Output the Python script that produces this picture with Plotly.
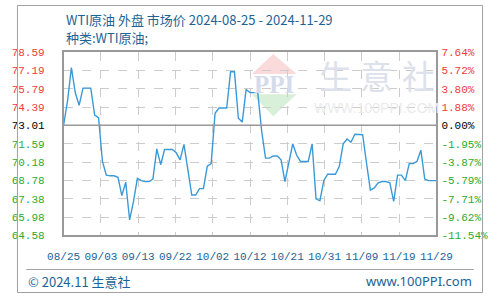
import pandas as pd
import plotly.graph_objects as go

# ---------------- data ----------------
start_date = "2024-08-25"
end_date = "2024-11-29"
prices = [
    73.01, 74.83, 77.42, 75.51, 74.53, 75.85, 75.85, 75.85, 73.79, 73.60,
    70.24, 69.19, 69.14, 69.14, 69.02, 67.62, 68.65, 65.76, 67.18, 68.94,
    68.77, 68.70, 68.70, 68.89, 71.20, 69.99, 71.15, 71.15, 71.15, 70.90,
    70.36, 71.54, 69.63, 67.67, 67.67, 68.16, 68.16, 69.87, 70.07, 73.92,
    74.33, 74.33, 74.33, 77.10, 77.10, 73.55, 73.25, 75.75, 75.51, 75.51,
    75.51, 72.57, 70.49, 70.49, 70.66, 70.66, 70.36, 68.70, 70.24, 71.59,
    70.73, 70.24, 70.24, 70.24, 71.59, 67.38, 67.23, 68.77, 69.26, 69.26,
    69.26, 69.87, 71.59, 71.96, 71.71, 72.32, 72.32, 72.28, 70.12, 68.04,
    68.21, 68.60, 68.70, 68.70, 68.60, 67.18, 69.19, 69.19, 68.77, 70.07,
    70.07, 70.24, 71.10, 68.89, 68.77, 68.77, 68.77,
]
base_price = 73.01
y_ticks = [78.59, 77.19, 75.79, 74.39, 73.01, 71.59, 70.18, 68.78, 67.38, 65.98, 64.58]
pct_labels = ["7.64%", "5.72%", "3.80%", "1.88%", "0.00%", "-1.95%", "-3.87%",
              "-5.79%", "-7.71%", "-9.62%", "-11.54%"]
x_labels = ["08/25", "09/03", "09/13", "09/22", "10/02", "10/12", "10/21",
            "10/31", "11/09", "11/19", "11/29"]

title_text = "WTI原油 外盘 市场价 2024-08-25 - 2024-11-29"
subtitle_text = "种类:WTI原油;"
footer_left = "© 2024.11 生意社"
footer_right = "www.100PPI.com"

# ---------------- styling ----------------
W, H = 500, 300
RED, GREEN, BLACK = "#ee3b3b", "#2eaa2e", "#000000"
BLUE_TEXT = "#1c6496"
LINE = "#3a9ad9"
TICK_FONT = dict(family="Liberation Mono", size=11)

dates = pd.date_range(start_date, end_date, freq="D")
t0 = pd.Timestamp(start_date)
span = pd.Timestamp(end_date) - t0
tick_pos = [t0 + span * i / (len(x_labels) - 1) for i in range(len(x_labels))]


def col(v):
    if abs(v - base_price) < 1e-9:
        return BLACK
    return RED if v > base_price else GREEN


left_text = [f'<span style="color:{col(v)}">{v:.2f}</span>' for v in y_ticks]
right_text = [f'<span style="color:{col(v)}">{p}</span>' for v, p in zip(y_ticks, pct_labels)]


def px(x):
    return x / W


def py(y):
    return 1 - y / H


fig = go.Figure()
fig.add_trace(go.Scatter(x=dates, y=prices, mode="lines",
                         line=dict(color=LINE, width=1.4), hoverinfo="skip",
                         showlegend=False))
fig.add_trace(go.Scatter(x=dates, y=prices, mode="lines", yaxis="y2",
                         line=dict(color="rgba(0,0,0,0)", width=0),
                         hoverinfo="skip", showlegend=False))

x0p, x1p = px(50), px(450)
y0p, y1p = py(240), py(49.3)

fig.update_layout(
    width=W, height=H,
    margin=dict(l=0, r=0, t=0, b=0),
    paper_bgcolor="white", plot_bgcolor="rgba(0,0,0,0)",
    xaxis=dict(
        domain=[x0p, x1p], type="date",
        range=[t0, pd.Timestamp(end_date)],
        tickvals=tick_pos, ticktext=x_labels,
        tickfont=dict(color=BLUE_TEXT, **TICK_FONT),
        ticks="", ticklabelstandoff=10,
        showgrid=True, gridcolor="#cccccc", griddash="dash", gridwidth=1,
        showline=True, linecolor="#999999", linewidth=1.5, mirror=True,
        zeroline=False,
    ),
    yaxis=dict(
        domain=[y0p, y1p], range=[y_ticks[-1], y_ticks[0]],
        tickvals=y_ticks, ticktext=left_text,
        tickfont=TICK_FONT, ticks="", ticklabelstandoff=15,
        showgrid=True, gridcolor="#cccccc", griddash="dash", gridwidth=1,
        showline=True, linecolor="#999999", linewidth=1.5, mirror=True,
        zeroline=False,
    ),
    yaxis2=dict(
        overlaying="y", side="right", range=[y_ticks[-1], y_ticks[0]],
        tickvals=y_ticks, ticktext=right_text,
        tickfont=TICK_FONT, ticks="", ticklabelstandoff=4,
        showgrid=False, zeroline=False, showline=False,
    ),
)

shapes = []
# baseline at base price
shapes.append(dict(type="line", xref="x domain", yref="y", x0=0, x1=1,
                   y0=base_price, y1=base_price,
                   line=dict(color="#999999", width=1.5)))
# watermark logo
shapes.append(dict(type="path", xref="paper", yref="paper", layer="below",
                   path=f"M {px(275)} {py(51)} L {px(300)} {py(72)} L {px(252)} {py(72)} Z",
                   fillcolor="#fadada", line=dict(width=0)))
shapes.append(dict(type="path", xref="paper", yref="paper", layer="below",
                   path=f"M {px(252)} {py(93)} L {px(300)} {py(93)} L {px(275)} {py(116)} Z",
                   fillcolor="#d8efd8", line=dict(width=0)))
# footer line and outer border
shapes.append(dict(type="line", xref="paper", yref="paper",
                   x0=px(10), x1=px(490), y0=py(275.5), y1=py(275.5),
                   line=dict(color="#a0a0a0", width=1)))
shapes.append(dict(type="rect", xref="paper", yref="paper",
                   x0=px(0.5), x1=px(499.5), y0=py(299.5), y1=py(0.5),
                   line=dict(color="#a0a0a0", width=1)))
fig.update_layout(shapes=shapes)

ann = []
ann.append(dict(text=title_text, x=px(50), y=py(15), xref="paper", yref="paper",
                xanchor="left", yanchor="middle", showarrow=False,
                font=dict(family="Noto Sans CJK SC", size=13, color=BLUE_TEXT)))
ann.append(dict(text=subtitle_text, x=px(50), y=py(34), xref="paper", yref="paper",
                xanchor="left", yanchor="middle", showarrow=False,
                font=dict(family="Noto Sans CJK SC", size=13, color=BLUE_TEXT)))
ann.append(dict(text=footer_left, x=px(10), y=py(288), xref="paper", yref="paper",
                xanchor="left", yanchor="middle", showarrow=False,
                font=dict(family="Noto Sans CJK SC", size=13, color=BLUE_TEXT)))
ann.append(dict(text=footer_right, x=px(490), y=py(288), xref="paper", yref="paper",
                xanchor="right", yanchor="middle", showarrow=False,
                font=dict(family="Noto Sans", size=13, color=BLUE_TEXT)))
# watermark text
ann.append(dict(text="<b>PPI</b>", x=px(276), y=py(83), xref="paper", yref="paper",
                xanchor="center", yanchor="middle", showarrow=False,
                font=dict(family="Liberation Serif", size=25, color="#d5dbea")))
for ch, cx in zip("生意社", [342, 386, 431]):
    ann.append(dict(text=ch, x=px(cx), y=py(73), xref="paper", yref="paper",
                    xanchor="center", yanchor="middle", showarrow=False,
                    font=dict(family="Noto Sans CJK SC", size=33, color="#dde1eb")))
ann.append(dict(text="WWW.100PPI.COM", x=px(386), y=py(107), xref="paper", yref="paper",
                xanchor="center", yanchor="middle", showarrow=False,
                font=dict(family="Liberation Sans", size=14, color="#ebebeb")))
fig.update_layout(annotations=ann)

fig.write_html("out.html")
